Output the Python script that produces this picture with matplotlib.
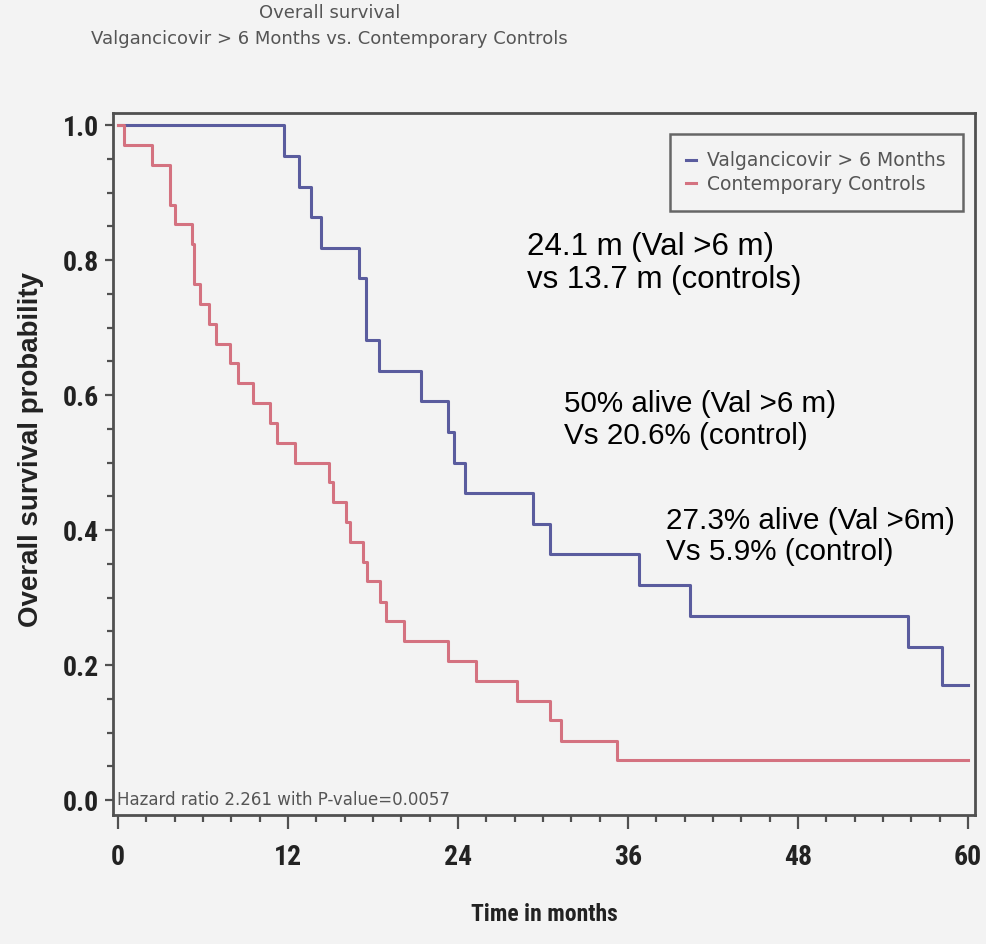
import matplotlib

matplotlib.use("Agg")
import matplotlib.pyplot as plt
import numpy as np
from matplotlib import font_manager
from matplotlib.ticker import MultipleLocator

# Kaplan-Meier step points (event time in months, survival after the event)
val_time = [11.7, 12.8, 13.6, 14.3, 17.0, 17.5, 18.4, 21.4, 23.3, 23.7,
            24.5, 29.3, 30.5, 36.8, 40.4, 55.8, 58.2]
val_surv = [0.955, 0.909, 0.864, 0.818, 0.773, 0.682, 0.636, 0.591, 0.545, 0.500,
            0.455, 0.409, 0.364, 0.318, 0.273, 0.227, 0.170]

ctl_time = [0.4, 2.4, 3.7, 4.0, 5.2, 5.4, 5.8, 6.4, 6.9, 7.9, 8.5, 9.55, 10.7,
            11.2, 12.5, 14.9, 15.2, 16.1, 16.4, 17.3, 17.55, 18.5, 18.9, 20.2,
            23.3, 25.3, 28.2, 30.5, 31.3, 35.2]
ctl_surv = [0.971, 0.941, 0.882, 0.853, 0.824, 0.765, 0.735, 0.706, 0.676, 0.647,
            0.618, 0.588, 0.559, 0.529, 0.500, 0.471, 0.441, 0.412, 0.382, 0.353,
            0.324, 0.294, 0.265, 0.235, 0.206, 0.176, 0.147, 0.118, 0.088, 0.059]

follow_up = 60
series_names = ["Valgancicovir > 6 Months", "Contemporary Controls"]
series_colors = ["#5a5c9e", "#d47280"]

x_ticks = [0, 12, 24, 36, 48, 60]
y_ticks = [0.0, 0.2, 0.4, 0.6, 0.8, 1.0]

title = "Overall survival\nValgancicovir > 6 Months vs. Contemporary Controls"
hazard_note = "Hazard ratio 2.261 with P-value=0.0057"
notes = [
    (28.9, 0.842, 22.5, "24.1 m (Val >6 m)\nvs 13.7 m (controls)"),
    (31.5, 0.607, 21.3, "50% alive (Val >6 m)\nVs 20.6% (control)"),
    (38.7, 0.434, 21.3, "27.3% alive (Val >6m)\nVs 5.9% (control)"),
]

bg = "#f3f3f3"
frame = "#505050"
grey_txt = "#555555"
dark_txt = "#222222"

# a condensed face for the axis text when one is around
installed = {f.name for f in font_manager.fontManager.ttflist}
condensed = next((n for n in ["Liberation Sans Narrow", "DejaVu Sans Condensed",
                              "Roboto Condensed", "Open Sans Condensed"] if n in installed), None)
tick_font = condensed or "Liberation Sans"
tick_size = 20 if condensed else 18

fig = plt.figure(figsize=(9.87, 9.44), dpi=100, facecolor=bg)
ax = fig.add_axes([0.1145, 0.1367, 0.8733, 0.7436], facecolor=bg)

for times, surv, name, color in [(val_time, val_surv, series_names[0], series_colors[0]),
                                 (ctl_time, ctl_surv, series_names[1], series_colors[1])]:
    t = np.r_[0, times, follow_up]
    s = np.r_[1.0, surv, surv[-1]]
    ax.step(t, s, where="post", color=color, lw=2.2, label=name)

ax.set_xlim(-0.35, 60.5)
ax.set_ylim(-0.022, 1.018)

for sp in ax.spines.values():
    sp.set_color(frame)
    sp.set_linewidth(2)

ax.set_xticks(x_ticks)
ax.set_yticks(y_ticks)
ax.set_yticklabels([f"{v:.1f}" for v in y_ticks])
ax.xaxis.set_minor_locator(MultipleLocator(2))
ax.yaxis.set_minor_locator(MultipleLocator(0.05))
ax.tick_params(axis="x", which="major", length=10, width=1.6, color=frame, pad=11,
               labelsize=tick_size)
ax.tick_params(axis="x", which="minor", length=5, width=1.6, color=frame)
ax.tick_params(axis="y", which="major", length=6, width=1.6, color=frame, pad=4,
               labelsize=tick_size)
ax.tick_params(axis="y", which="minor", length=4, width=1.6, color=frame)
for lab in ax.get_xticklabels() + ax.get_yticklabels():
    lab.set_fontfamily(tick_font)
    lab.set_fontweight("bold")
    lab.set_color(dark_txt)

if condensed:
    ax.set_xlabel("Time in months", fontsize=17, fontweight="bold", family=condensed,
                  color=dark_txt)
else:
    ax.set_xlabel("Time in months", fontsize=16, fontweight="bold",
                  family="Liberation Sans", color=dark_txt)
ax.set_ylabel("Overall survival probability", fontsize=20, fontweight="bold",
              family="Liberation Sans", color=dark_txt)
ax.xaxis.set_label_coords(0.5, -0.125)
ax.yaxis.set_label_coords(-0.08, 0.52)

fig.text(0.334, 0.996, title, ha="center", va="top", fontsize=13, color=grey_txt,
         linespacing=1.6, family="DejaVu Sans")

ax.text(-0.1, 0.0, hazard_note, ha="left", va="center", fontsize=12, color=grey_txt,
        family="DejaVu Sans")

for x, y, size, txt in notes:
    ax.text(x, y, txt, ha="left", va="top", fontsize=size, color="black",
            family="Liberation Sans", linespacing=1.15)

leg = ax.legend(loc="upper right", bbox_to_anchor=(0.9965, 0.983), frameon=True,
                fancybox=False, edgecolor="#666666", facecolor=bg, framealpha=1,
                handlelength=0.5, handletextpad=0.6, labelspacing=0.25,
                borderpad=0.9, prop={"family": "DejaVu Sans", "size": 13.5})
leg.get_frame().set_linewidth(1.8)
for txt in leg.get_texts():
    txt.set_color(grey_txt)

fig.savefig("out.png", dpi=100, facecolor=bg)
